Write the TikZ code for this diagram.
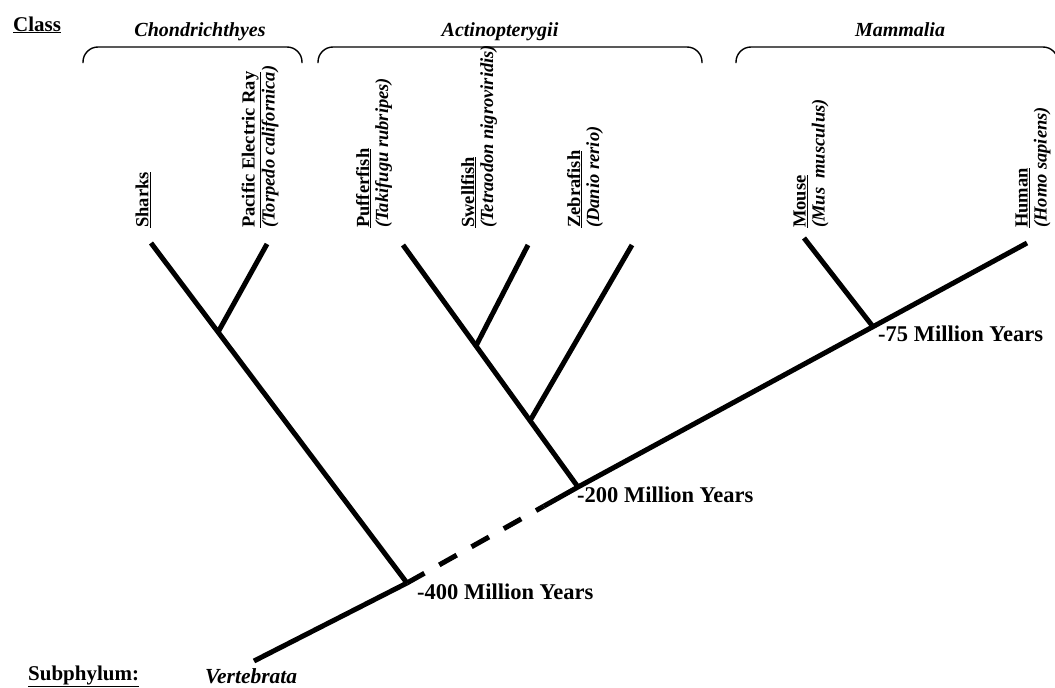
\documentclass[tikz,border=0pt]{standalone}
\usepackage{fontspec}
\setmainfont{Liberation Serif}
\usetikzlibrary{positioning, calc}
\tikzset{
  taxon_font/.style = {font=\bfseries\fontsize{18.5}{19}\selectfont},
  age_font/.style = {font=\bfseries\fontsize{22.5}{26}\selectfont},
  group_font/.style = {font=\bfseries\itshape\fontsize{20}{24}\selectfont},
  head_font/.style = {font=\bfseries\fontsize{21}{25}\selectfont}
}
\tikzset{
  taxon/.style = {taxon_font, rotate=90, anchor=west, align=left, inner sep=0},
  age_label/.style = {age_font, anchor=base west, inner sep=0},
  group/.style = {group_font, anchor=base, inner sep=0},
  heading/.style = {head_font, anchor=base west, inner sep=0},
  branch/.style = {line width=5},
  gap_branch/.style = {branch, dash pattern=on 20 off 17},
  brace/.style = {line width=1.4, rounded corners=15}
}
\begin{document}
\begin{tikzpicture}[x=1pt, y=-1pt]
    \path[use as bounding box, clip] (0,0) rectangle (1055,688);

        % Headings
        \node[heading] (class) at (13,31) {\underline{Class}};
        \node[heading] (subphylum) at (28,680) {\underline{Subphylum:}};
        \node[heading, font=\bfseries\itshape\fontsize{21.5}{25}\selectfont] (vert) at (205,683) {Vertebrata};

        % Classes
        \node[group] (chond) at (200,36) {Chondrichthyes};
        \node[group] (actin) at (500,36) {Actinopterygii};
        \node[group] (mamm) at (900,36) {Mammalia};
        \draw[brace] (83,63) -- (83,47) -- (302,47) -- (302,63);
        \draw[brace] (318,63) -- (318,47) -- (702,47) -- (702,63);
        \draw[brace] (736,63) -- (736,47) -- (1058,47) -- (1058,63);

        % Species
        \node[taxon] (sharks_lbl) at (143,228) {\underline{Sharks}};
        \node[taxon] (ray_lbl) at (260,228) {
            \underline{Pacific Electric Ray}\\ \textit{(Torpedo californica)}};
        \node[taxon] (puffer_lbl) at (374,228) {
            \underline{Pufferfish}\\ \textit{(Takifugu rubripes)}};
        \node[taxon] (swell_lbl) at (479,228) {
            \underline{Swellfish}\\ \textit{(Tetraodon nigroviridis)}};
        \node[taxon] (zebra_lbl) at (585,228) {
            \underline{Zebrafish}\\ \textit{(Danio rerio)}};
        \node[taxon] (mouse_lbl) at (811,228) {
            \underline{Mouse}\\ \textit{(Mus\ \ musculus)}};
        \node[taxon] (human_lbl) at (1033,228) {
            \underline{Human}\\ \textit{(Homo sapiens)}};

        % Tips and splits
        \coordinate (root) at (254,661);
        \coordinate (n400) at (407,583);
        \coordinate (n200) at (578,487);
        \coordinate (sharks_tip) at (151,243);
        \coordinate (ray_tip) at (267,244);
        \coordinate (puffer_tip) at (403,245);
        \coordinate (swell_tip) at (528,245);
        \coordinate (zebra_tip) at (632,245);
        \coordinate (mouse_tip) at (804,238);
        \coordinate (human_tip) at (1027,243);
        \coordinate (ray_split) at ($(sharks_tip)!0.262!(n400)$);
        \coordinate (swell_split) at ($(puffer_tip)!0.417!(n200)$);
        \coordinate (zebra_split) at ($(puffer_tip)!0.726!(n200)$);
        \coordinate (n75) at ($(n200)!0.657!(human_tip)$);
        \coordinate (gap_end) at ($(n400)!0.80!(n200)$);

        % Ages
        \node[age_label] (age400) at (417,599) {-400 Million Years};
        \node[age_label] (age200) at (577,502) {-200 Million Years};
        \node[age_label] (age75) at (878,341) {-75 Million Years};

        % Branches
        \draw[branch] (root)--(n400);
        \draw[gap_branch] (n400)--(gap_end);
        \draw[branch] (gap_end)--(n200)--(human_tip);
        \draw[branch] (n400)--(sharks_tip);
        \draw[branch] (ray_split)--(ray_tip);
        \draw[branch] (n200)--(puffer_tip);
        \draw[branch] (swell_split)--(swell_tip);
        \draw[branch] (zebra_split)--(zebra_tip);
        \draw[branch] (n75)--(mouse_tip);
\end{tikzpicture}
\end{document}
